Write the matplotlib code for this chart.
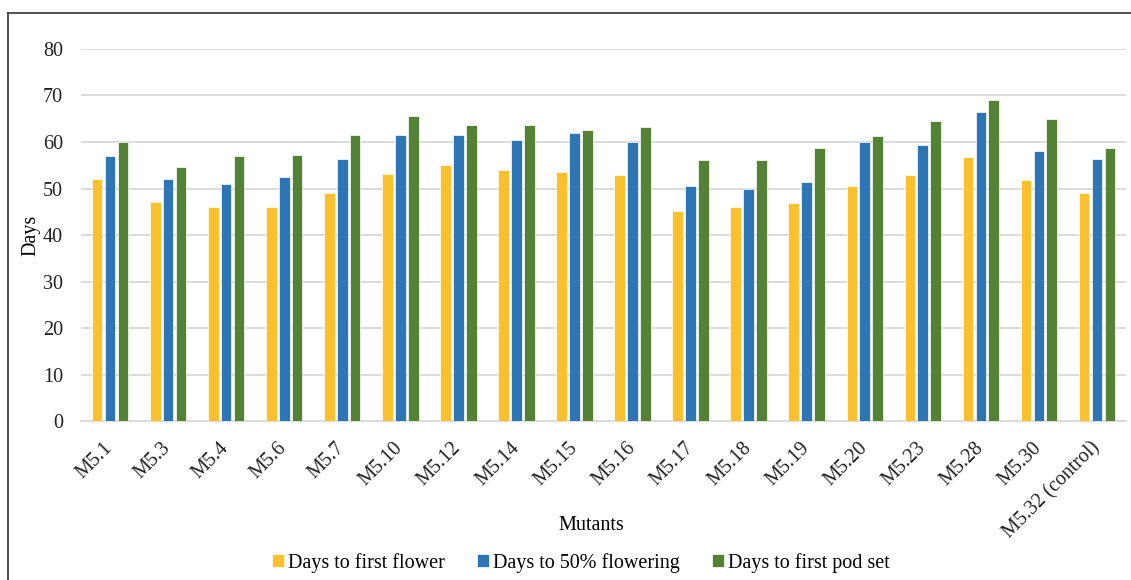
import matplotlib.pyplot as plt
import numpy as np
from matplotlib.lines import Line2D

plt.rcParams['font.family'] = ['Liberation Serif', 'DejaVu Serif']

mutants = ["M5.1", "M5.3", "M5.4", "M5.6", "M5.7", "M5.10", "M5.12", "M5.14",
           "M5.15", "M5.16", "M5.17", "M5.18", "M5.19", "M5.20", "M5.23",
           "M5.28", "M5.30", "M5.32 (control)"]

first_flower = [52.0, 47.0, 46.0, 46.0, 49.0, 53.2, 55.0, 54.0, 53.5, 52.9,
                45.2, 46.0, 46.8, 50.5, 53.0, 56.8, 51.8, 49.0]
fifty_flowering = [57.0, 52.0, 51.0, 52.4, 56.4, 61.4, 61.4, 60.4, 62.0, 60.0,
                   50.5, 50.0, 51.4, 60.0, 59.4, 66.5, 58.0, 56.4]
first_pod = [60.0, 54.6, 57.0, 57.1, 61.5, 65.5, 63.6, 63.6, 62.5, 63.3,
             56.1, 56.1, 58.8, 61.2, 64.4, 68.9, 64.9, 58.8]

series = [
    ("Days to first flower", first_flower, "#FBC02D"),
    ("Days to 50% flowering", fifty_flowering, "#2E75B6"),
    ("Days to first pod set", first_pod, "#548235"),
]

fs = 14.5

fig = plt.figure(figsize=(11.31, 5.80), dpi=100)
ax = fig.add_axes([0.0716, 0.2733, 0.9240, 0.6427])

x = np.arange(len(mutants))
step = 0.222
width = 0.185
for i, (name, vals, color) in enumerate(series):
    ax.bar(x + (i - 1) * step, vals, width, color=color, label=name,
           edgecolor='white', linewidth=0.5, zorder=3)

ax.set_xlim(-0.5, len(mutants) - 0.5)
ax.set_ylim(0, 80)
ax.set_yticks(np.arange(0, 81, 10))
ax.yaxis.grid(True, color='#D9D9D9', linewidth=1.3, zorder=0)
for side in ['top', 'right', 'left']:
    ax.spines[side].set_visible(False)
ax.spines['bottom'].set_color('#D9D9D9')
ax.spines['bottom'].set_linewidth(1.3)
ax.tick_params(axis='both', length=0, labelsize=fs, colors='#222222')
ax.tick_params(axis='y', pad=13)
ax.tick_params(axis='x', pad=17)

ax.set_xticks(x)
ax.set_xticklabels(mutants, rotation=45, ha='right', va='center',
                   rotation_mode='anchor')

ax.set_ylabel("Days", fontsize=fs, labelpad=2)
fig.text(591 / 1131, 1 - 525 / 580, "Mutants", fontsize=fs,
         ha='center', va='center')

fig.legend(loc='center', bbox_to_anchor=(581 / 1131, 1 - 563 / 580), ncol=3,
           frameon=False, fontsize=fs, handlelength=0.6, handleheight=0.6,
           handletextpad=0.2, columnspacing=1.6)

# outer frame on the left and top edges
fig.add_artist(Line2D([8 / 1131, 8 / 1131], [0, 1 - 13 / 580],
                      transform=fig.transFigure, color='#333333', linewidth=1.2))
fig.add_artist(Line2D([8 / 1131, 1], [1 - 13 / 580, 1 - 13 / 580],
                      transform=fig.transFigure, color='#333333', linewidth=1.2))

fig.savefig("out.png", dpi=100)
